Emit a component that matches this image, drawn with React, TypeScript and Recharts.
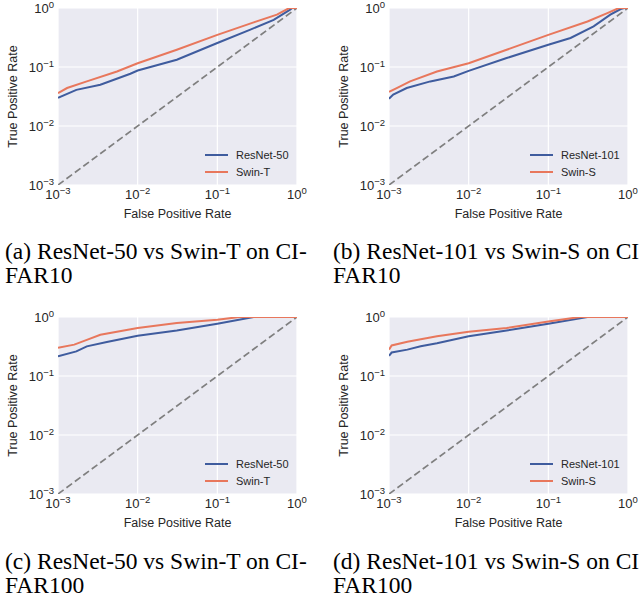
import React from "react";
import {
  CartesianGrid,
  Line,
  LineChart,
  XAxis,
  YAxis,
} from "recharts";

// ROC points (fpr on x, tpr on y, both log scale)
const resnet50C10Fpr = [0.001, 0.0017, 0.0034, 0.0081, 0.01, 0.031, 0.1, 0.26, 0.51, 0.82, 0.87, 1];
const resnet50C10Tpr = [0.03, 0.041, 0.05, 0.077, 0.087, 0.133, 0.255, 0.43, 0.63, 0.94, 1, 1];
const swinTC10Fpr = [0.001, 0.0013, 0.0023, 0.0055, 0.01, 0.031, 0.1, 0.286, 0.56, 0.8, 1];
const swinTC10Tpr = [0.036, 0.044, 0.057, 0.084, 0.116, 0.196, 0.35, 0.57, 0.77, 1, 1];

const resnet101C10Fpr = [0.001, 0.00113, 0.00167, 0.0033, 0.0065, 0.01, 0.03, 0.1, 0.19, 0.37, 0.6, 0.81, 0.9, 1];
const resnet101C10Tpr = [0.029, 0.034, 0.044, 0.057, 0.069, 0.086, 0.142, 0.238, 0.31, 0.49, 0.77, 0.96, 1, 1];
const swinSC10Fpr = [0.001, 0.00125, 0.00184, 0.004, 0.01, 0.03, 0.1, 0.31, 0.55, 0.77, 1];
const swinSC10Tpr = [0.038, 0.044, 0.057, 0.084, 0.116, 0.196, 0.35, 0.59, 0.82, 1, 1];

const resnet50C100Fpr = [0.001, 0.0017, 0.0023, 0.0041, 0.01, 0.031, 0.1, 0.286, 1];
const resnet50C100Tpr = [0.215, 0.261, 0.318, 0.377, 0.48, 0.59, 0.77, 1, 1];
const swinTC100Fpr = [0.001, 0.0016, 0.0023, 0.0034, 0.01, 0.031, 0.1, 0.19, 1];
const swinTC100Tpr = [0.3, 0.34, 0.41, 0.5, 0.65, 0.79, 0.9, 1, 1];

const resnet101C100Fpr = [0.001, 0.00108, 0.0017, 0.0025, 0.004, 0.01, 0.03, 0.1, 0.31, 1];
const resnet101C100Tpr = [0.22, 0.25, 0.28, 0.32, 0.36, 0.47, 0.59, 0.77, 1, 1];
const swinSC100Fpr = [0.001, 0.00108, 0.0017, 0.004, 0.01, 0.03, 0.1, 0.25, 1];
const swinSC100Tpr = [0.28, 0.33, 0.38, 0.47, 0.56, 0.65, 0.84, 1, 1];

const chanceFpr = [0.001, 1];
const chanceTpr = [0.001, 1];

const logTicks = [0.001, 0.01, 0.1, 1];
const tickExponents = ["\u22123", "\u22122", "\u22121", "0"];

const BLUE = "#3F5C9E";
const ORANGE = "#E8775C";
const INK = "#262626";
const SANS = "'Liberation Sans', Arial, sans-serif";

const zip = (fpr: number[], tpr: number[]) =>
  fpr.map((f, i) => ({ fpr: f, tpr: tpr[i] }));

const exponentOf = (v: number) => tickExponents[logTicks.indexOf(v)] ?? "";

const XTick = ({ x, y, payload }: any) => (
  <text x={x} y={y} textAnchor="middle" fill={INK} fontSize={13} fontFamily={SANS}>
    <tspan dy={10}>10</tspan>
    <tspan dy={-5} fontSize={9.5}>{exponentOf(payload.value)}</tspan>
  </text>
);

const YTick = ({ x, y, payload }: any) => (
  <text x={x} y={y} textAnchor="end" fill={INK} fontSize={13} fontFamily={SANS}>
    <tspan dy={4.5}>10</tspan>
    <tspan dy={-5} fontSize={9.5}>{exponentOf(payload.value)}</tspan>
  </text>
);

interface Series {
  name: string;
  color: string;
  fpr: number[];
  tpr: number[];
}

interface Panel {
  plotLeft: number;
  plotTop: number;
  legendLeft: number;
  caption: string[];
  captionLeft: number;
  captionTop: number;
  series: Series[];
}

const panels: Panel[] = [
  {
    plotLeft: 58,
    plotTop: 8,
    legendLeft: 205,
    caption: ["(a) ResNet-50 vs Swin-T on CI-", "FAR10"],
    captionLeft: 5,
    captionTop: 239,
    series: [
      { name: "ResNet-50", color: BLUE, fpr: resnet50C10Fpr, tpr: resnet50C10Tpr },
      { name: "Swin-T", color: ORANGE, fpr: swinTC10Fpr, tpr: swinTC10Tpr },
    ],
  },
  {
    plotLeft: 389,
    plotTop: 8,
    legendLeft: 530,
    caption: ["(b) ResNet-101 vs Swin-S on CI", "FAR10"],
    captionLeft: 333,
    captionTop: 239,
    series: [
      { name: "ResNet-101", color: BLUE, fpr: resnet101C10Fpr, tpr: resnet101C10Tpr },
      { name: "Swin-S", color: ORANGE, fpr: swinSC10Fpr, tpr: swinSC10Tpr },
    ],
  },
  {
    plotLeft: 58,
    plotTop: 317,
    legendLeft: 205,
    caption: ["(c) ResNet-50 vs Swin-T on CI-", "FAR100"],
    captionLeft: 5,
    captionTop: 549,
    series: [
      { name: "ResNet-50", color: BLUE, fpr: resnet50C100Fpr, tpr: resnet50C100Tpr },
      { name: "Swin-T", color: ORANGE, fpr: swinTC100Fpr, tpr: swinTC100Tpr },
    ],
  },
  {
    plotLeft: 389,
    plotTop: 317,
    legendLeft: 530,
    caption: ["(d) ResNet-101 vs Swin-S on CI", "FAR100"],
    captionLeft: 333,
    captionTop: 549,
    series: [
      { name: "ResNet-101", color: BLUE, fpr: resnet101C100Fpr, tpr: resnet101C100Tpr },
      { name: "Swin-S", color: ORANGE, fpr: swinSC100Fpr, tpr: swinSC100Tpr },
    ],
  },
];

const MARGIN_TOP = 14;
const Y_AXIS_W = 58;
const X_AXIS_H = 40;
const PLOT_W = 239;
const PLOT_H = 177;
const CHART_W = Y_AXIS_W + PLOT_W + 11;
const CHART_H = MARGIN_TOP + PLOT_H + X_AXIS_H;

const LegendBox = ({ panel }: { panel: Panel }) => (
  <div
    style={{
      position: "absolute",
      left: panel.legendLeft,
      top: panel.plotTop + 138,
      fontFamily: SANS,
      fontSize: 11,
      color: INK,
    }}
  >
    {panel.series.map((s) => (
      <div key={s.name} style={{ display: "flex", alignItems: "center", height: 17 }}>
        <svg width={23} height={4} style={{ marginRight: 8 }}>
          <line x1={0} y1={2} x2={23} y2={2} stroke={s.color} strokeWidth={2} />
        </svg>
        <span>{s.name}</span>
      </div>
    ))}
  </div>
);

const RocPanel = ({ panel }: { panel: Panel }) => (
  <div
    style={{
      position: "absolute",
      left: panel.plotLeft - Y_AXIS_W,
      top: panel.plotTop - MARGIN_TOP,
    }}
  >
    <LineChart
      width={CHART_W}
      height={CHART_H}
      margin={{ top: MARGIN_TOP, right: 11, bottom: 0, left: 0 }}
    >
      <CartesianGrid fill="#EAEAF2" stroke="#FFFFFF" strokeWidth={1.2} />
      <XAxis
        type="number"
        dataKey="fpr"
        scale="log"
        domain={[0.001, 1]}
        ticks={logTicks}
        allowDataOverflow
        axisLine={false}
        tickLine={false}
        tickSize={0}
        tickMargin={4}
        height={X_AXIS_H}
        tick={<XTick />}
        label={{
          value: "False Positive Rate",
          position: "insideBottom",
          offset: 7,
          fill: INK,
          fontSize: 12.5,
          fontFamily: SANS,
        }}
      />
      <YAxis
        type="number"
        dataKey="tpr"
        scale="log"
        domain={[0.001, 1]}
        ticks={logTicks}
        allowDataOverflow
        axisLine={false}
        tickLine={false}
        tickSize={0}
        tickMargin={4}
        width={Y_AXIS_W}
        tick={<YTick />}
        label={{
          value: "True Positive Rate",
          angle: -90,
          position: "insideLeft",
          offset: 13,
          fill: INK,
          fontSize: 12.5,
          fontFamily: SANS,
          style: { textAnchor: "middle" },
        }}
      />
      <Line
        data={zip(chanceFpr, chanceTpr)}
        dataKey="tpr"
        stroke="#7F7F7F"
        strokeWidth={1.7}
        strokeDasharray="7 3.5"
        dot={false}
        isAnimationActive={false}
        legendType="none"
      />
      {panel.series.map((s) => (
        <Line
          key={s.name}
          name={s.name}
          data={zip(s.fpr, s.tpr)}
          dataKey="tpr"
          stroke={s.color}
          strokeWidth={2}
          dot={false}
          isAnimationActive={false}
        />
      ))}
    </LineChart>
  </div>
);

export default function App() {
  return (
    <div
      style={{
        position: "absolute",
        left: 0,
        top: 0,
        width: 639,
        height: 611,
        background: "#FFFFFF",
        overflow: "hidden",
      }}
    >
      {panels.map((p, i) => (
        <React.Fragment key={i}>
          <RocPanel panel={p} />
          <LegendBox panel={p} />
          <div
            style={{
              position: "absolute",
              left: p.captionLeft,
              top: p.captionTop,
              fontFamily: "'Liberation Serif', 'Times New Roman', serif",
              fontSize: 23.5,
              lineHeight: "24px",
              color: "#000",
              whiteSpace: "nowrap",
            }}
          >
            {p.caption.map((line) => (
              <div key={line}>{line}</div>
            ))}
          </div>
        </React.Fragment>
      ))}
    </div>
  );
}
